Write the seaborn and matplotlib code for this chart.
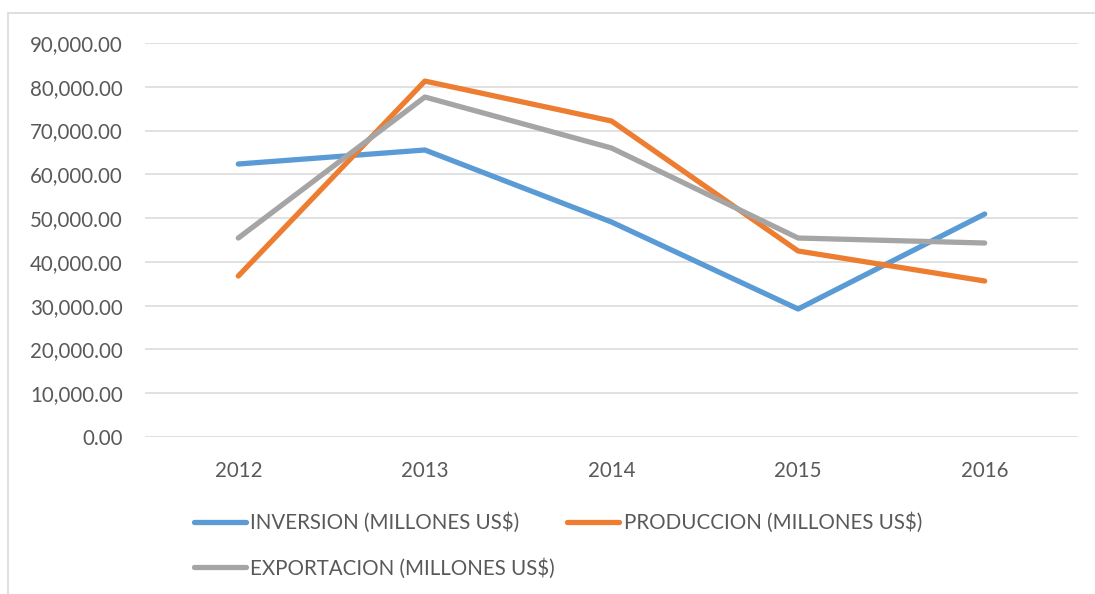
import pandas as pd
import numpy as np
from matplotlib import pyplot as plt
from matplotlib.patches import Rectangle
from matplotlib.ticker import FuncFormatter
import seaborn as sns

years = ["2012", "2013", "2014", "2015", "2016"]
inversion = [62360, 65560, 49110, 29240, 50940]
produccion = [36770, 81300, 72180, 42490, 35630]
exportacion = [45450, 77660, 66010, 45450, 44310]

labels = ["INVERSION (MILLONES US$)", "PRODUCCION (MILLONES US$)", "EXPORTACION (MILLONES US$)"]
colors = ["#5B9BD5", "#ED7D31", "#A5A5A5"]

df = pd.DataFrame({"year": years * 3,
                   "value": inversion + produccion + exportacion,
                   "serie": [labels[0]] * 5 + [labels[1]] * 5 + [labels[2]] * 5})

sns.set_style("white")
plt.rcParams['font.family'] = ['Lato', 'DejaVu Sans']

fig = plt.figure(figsize=(10.95, 5.94), dpi=100)
ax = fig.add_axes([145 / 1095, 1 - 437 / 594, (1078 - 145) / 1095, (437 - 43) / 594])

sns.lineplot(data=df, x="year", y="value", hue="serie", palette=colors,
             linewidth=3.8, ax=ax, legend=False, sort=False)

ax.set_xlim(-0.5, 4.5)
ax.set_ylim(0, 90000)
ax.set_yticks(np.arange(0, 90001, 10000))
ax.yaxis.set_major_formatter(FuncFormatter(lambda v, p: f"{v:,.2f}"))
ax.grid(axis="y", color="#D9D9D9", linewidth=1.1)
ax.set_axisbelow(True)
for s in ax.spines.values():
    s.set_visible(False)
ax.set_xlabel("")
ax.set_ylabel("")
ax.tick_params(axis="both", length=0, labelsize=14.8, colors="#595959")
ax.tick_params(axis="y", pad=16)
ax.tick_params(axis="x", pad=17)

# chart frame (only left and top visible in the crop)
fig.patches.append(Rectangle((8 / 1095, -0.1), 1.2, 1 - 13 / 594 + 0.1,
                             transform=fig.transFigure, fill=False,
                             edgecolor="#D9D9D9", linewidth=1.2))

handles = [plt.Line2D([], [], color=c, linewidth=3.8) for c in colors]
order = [0, 2, 1]
fig.legend([handles[i] for i in order], [labels[i] for i in order],
           ncol=2, loc="upper left", bbox_to_anchor=(175 / 1095, 1 - 494 / 594),
           frameon=False, fontsize=14.8, handlelength=2.55, handletextpad=0.2,
           columnspacing=0.6, labelspacing=1.2, labelcolor="#595959")

fig.savefig("out.png", dpi=100)
